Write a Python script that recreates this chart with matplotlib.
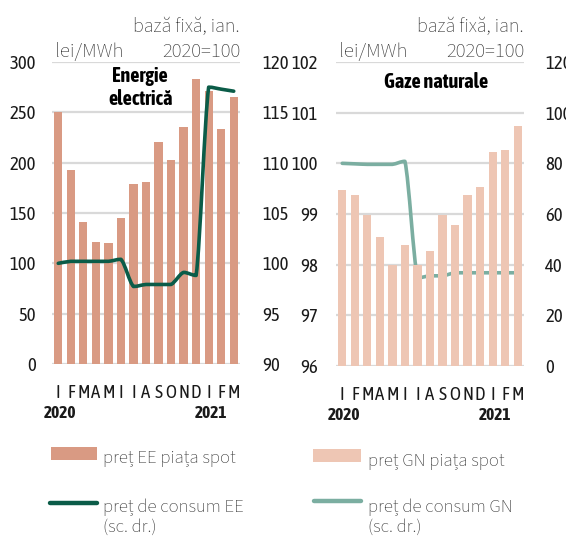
import matplotlib
matplotlib.use("Agg")
import matplotlib.pyplot as plt
import numpy as np
from matplotlib.path import Path
from matplotlib.patches import PathPatch, Rectangle
from matplotlib.lines import Line2D
import matplotlib.transforms as mtransforms
import logging
logging.getLogger("matplotlib.font_manager").setLevel(logging.ERROR)

months = ["I", "F", "M", "A", "M", "I", "I", "A", "S", "O", "N", "D", "I", "F", "M"]
years = ["2020", "2021"]
year_pos = [0, 12]

ee_spot = [250, 193, 141, 121, 120, 145, 179, 181, 221, 203, 235, 283, 271, 233, 265]
ee_cons = [100.0, 100.2, 100.2, 100.2, 100.2, 100.4, 97.7, 97.9, 97.9, 97.9, 99.1, 98.8, 117.5, 117.3, 117.1]
gn_spot = [69.6, 67.4, 59.5, 50.8, 39.7, 47.6, 39.7, 45.3, 59.5, 55.5, 67.4, 70.5, 84.6, 85.4, 94.9]
gn_cons = [100.0, 99.99, 99.98, 99.98, 99.98, 100.04, 97.74, 97.78, 97.78, 97.84, 97.84, 97.84, 97.84, 97.84, 97.84]

EE_BAR = "#D99A83"
EE_LINE = "#0B5C48"
GN_BAR = "#EEC6B4"
GN_LINE = "#7BAEA1"
GRID = "#D9D9D9"
TXT = "#1a1a1a"
LTXT = "#383838"

NARROW = ["Asap Condensed", "Barlow Semi Condensed", "DejaVu Sans"]
REG = ["Source Sans 3", "Source Sans Pro", "Open Sans", "DejaVu Sans"]
TS = 13.5
PX = 0.72  # points per pixel at 100 dpi

W, H = 566, 541
fig = plt.figure(figsize=(W / 100, H / 100), dpi=100)


def smooth_path(x, y, k=6.0):
    x = np.asarray(x, float)
    y = np.asarray(y, float)
    pts = np.column_stack([x, y])
    n = len(pts)
    verts = [pts[0]]
    codes = [Path.MOVETO]
    for i in range(n - 1):
        p0 = pts[i - 1] if i > 0 else pts[i]
        p1 = pts[i]
        p2 = pts[i + 1]
        p3 = pts[i + 2] if i + 2 < n else pts[i + 1]
        c1 = p1 + (p2 - p0) / k
        c2 = p2 - (p3 - p1) / k
        lo, hi = min(p1[1], p2[1]), max(p1[1], p2[1])
        c1[1] = np.clip(c1[1], lo, hi)
        c2[1] = np.clip(c2[1], lo, hi)
        verts += [c1, c2, p2]
        codes += [Path.CURVE4] * 3
    return Path(verts, codes)


def panel(rect, bars, bar_color, bar_ylim, bar_ticks, line, line_color, line_ylim, line_ticks,
          bars_on_left, title, title_x, title_y, lpad, rpad):
    ax = fig.add_axes(rect)
    ax2 = ax.twinx()
    x = np.arange(len(months))
    if bars_on_left:
        axb, axl = ax, ax2
    else:
        axb, axl = ax2, ax
    ax.set_zorder(1)
    ax2.set_zorder(2)
    ax.patch.set_visible(False)
    ax2.patch.set_visible(False)
    left_ticks = bar_ticks if bars_on_left else line_ticks
    for t in left_ticks:
        ax.axhline(t, color=GRID, lw=1.6, zorder=0)
    axb.bar(x, bars, width=0.66, color=bar_color, zorder=2)
    axb.set_ylim(*bar_ylim)
    axb.set_yticks(bar_ticks)
    axl.set_ylim(*line_ylim)
    axl.set_yticks(line_ticks)
    p = smooth_path(x, line)
    axl.add_patch(PathPatch(p, facecolor="none", edgecolor=line_color, lw=2.6,
                            capstyle="round", joinstyle="round", zorder=3))
    for a in (ax, ax2):
        a.set_xlim(-0.5, 14.5)
        for s in a.spines.values():
            s.set_visible(False)
        a.tick_params(axis="both", length=0, labelsize=TS, colors=TXT)
        for lab in a.get_yticklabels():
            lab.set_family(NARROW)
    ax.tick_params(axis="y", pad=lpad * PX)
    ax2.tick_params(axis="y", pad=rpad * PX)
    ax.set_xticks(x)
    ax.set_xticklabels(months, family=NARROW, fontsize=TS)
    ax.tick_params(axis="x", pad=20 * PX)
    trans = mtransforms.blended_transform_factory(ax.transData, ax.transAxes)
    for yl, xp in zip(years, year_pos):
        ax.text(xp + 0.15, -0.162, yl, transform=trans, ha="center", va="center",
                family=NARROW, fontsize=12.5, fontweight="bold", color=TXT)
    ax.text(title_x, title_y, title, transform=ax.transAxes, ha="center", va="center",
            family=NARROW, fontsize=14.5, fontweight="bold", color="black",
            linespacing=1.2, zorder=5)
    ax.text(0.015, 1.017, "lei/MWh", transform=ax.transAxes, ha="left", va="baseline",
            family=REG, fontsize=15, fontweight="light", color=LTXT)
    ax.text(1.0, 1.017, "2020=100", transform=ax.transAxes, ha="right", va="baseline",
            family=REG, fontsize=15, fontweight="light", color=LTXT)
    ax.text(1.0, 1.099, "bază fixă, ian.", transform=ax.transAxes, ha="right", va="baseline",
            family=REG, fontsize=14.5, fontweight="light", color=LTXT)
    return ax


panel([52 / W, 1 - 364 / H, 188 / W, 302 / H], ee_spot, EE_BAR, (0, 300), [0, 50, 100, 150, 200, 250, 300],
      ee_cons, EE_LINE, (90, 120), [90, 95, 100, 105, 110, 115, 120], True,
      "Energie\nelectrică", 0.47, 0.915, 16, 22)
panel([336 / W, 1 - 366 / H, 188 / W, 304 / H], gn_spot, GN_BAR, (0, 120), [0, 20, 40, 60, 80, 100, 120],
      gn_cons, GN_LINE, (96, 102), [96, 97, 98, 99, 100, 101, 102], False,
      "Gaze naturale", 0.53, 0.935, 18, 21)


def fx(px):
    return px / W


def fy(py):
    return 1 - py / H


LFS = 13.5
fig.add_artist(Rectangle((fx(51), fy(460)), fx(97) - fx(51), fy(447) - fy(460),
                         transform=fig.transFigure, facecolor=EE_BAR, edgecolor="none"))
fig.text(fx(103), fy(463), "preț EE piața spot", ha="left", va="baseline", family=REG,
         fontsize=LFS, fontweight="light", color=LTXT)
fig.add_artist(Line2D([fx(50), fx(97)], [fy(503), fy(503)], transform=fig.transFigure,
                      color=EE_LINE, lw=3.2, solid_capstyle="round"))
fig.text(fx(103), fy(511.5), "preț de consum EE", ha="left", va="baseline", family=REG,
         fontsize=LFS, fontweight="light", color=LTXT)
fig.text(fx(103), fy(531.5), "(sc. dr.)", ha="left", va="baseline", family=REG,
         fontsize=LFS, fontweight="light", color=LTXT)

fig.add_artist(Rectangle((fx(313), fy(462)), fx(361) - fx(313), fy(449) - fy(462),
                         transform=fig.transFigure, facecolor=GN_BAR, edgecolor="none"))
fig.text(fx(368), fy(465.5), "preț GN piața spot", ha="left", va="baseline", family=REG,
         fontsize=LFS, fontweight="light", color=LTXT)
fig.add_artist(Line2D([fx(314), fx(361)], [fy(501), fy(501)], transform=fig.transFigure,
                      color=GN_LINE, lw=3.2, solid_capstyle="round"))
fig.text(fx(368), fy(512), "preț de consum GN", ha="left", va="baseline", family=REG,
         fontsize=LFS, fontweight="light", color=LTXT)
fig.text(fx(368), fy(532), "(sc. dr.)", ha="left", va="baseline", family=REG,
         fontsize=LFS, fontweight="light", color=LTXT)

fig.savefig("out.png", dpi=100)
